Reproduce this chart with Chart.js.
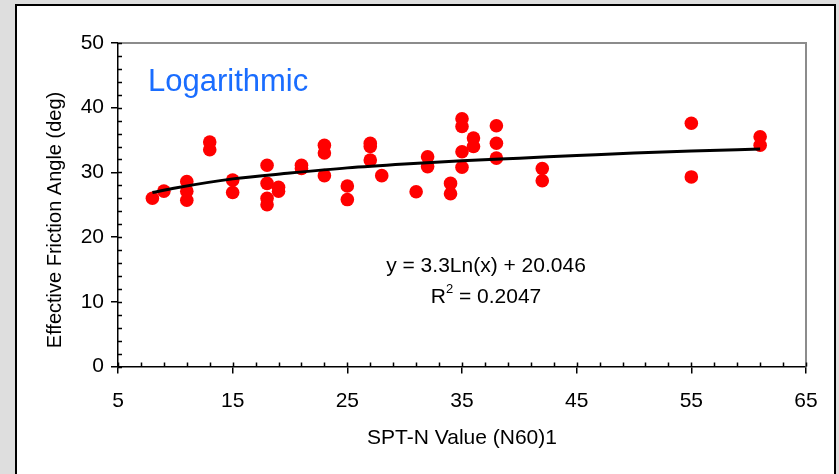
<!DOCTYPE html>
<html>
<head>
<meta charset="utf-8">
<script src="https://cdn.jsdelivr.net/npm/chart.js@4"></script>
<style>
  html, body { margin: 0; padding: 0; background: #dedede; }
  #wrap { position: relative; width: 839px; height: 474px; }
  canvas { display: block; }
</style>
</head>
<body>
<div id="wrap"><canvas id="c" width="839" height="474"></canvas></div>
<script>
// ---- data ----
const sptN = [8, 9, 11, 11, 11, 13, 13, 15, 15, 18, 18, 18, 18, 19, 19, 21, 21, 23, 23, 23, 25, 25,
              27, 27, 27, 28, 31, 32, 32, 34, 34, 35, 35, 35, 35, 36, 36, 38, 38, 38, 42, 42, 55, 55, 61, 61];
const frictionAngle = [26.0, 27.1, 28.6, 27.1, 25.7, 34.7, 33.5, 28.8, 26.9, 31.1, 28.3, 26.0, 25.0, 27.7, 27.1, 31.1, 30.6, 34.2, 33.0, 29.5, 27.9, 25.8,
              34.5, 34.0, 31.9, 29.5, 27.0, 32.4, 30.9, 28.3, 26.7, 38.3, 37.1, 33.2, 30.8, 35.3, 34.0, 37.2, 34.5, 32.2, 30.6, 28.7, 37.6, 29.3, 35.5, 34.2];
// trendline as drawn in the reference (y = 3.3Ln(x) + 20.046)
const trendX = [8, 10, 15, 20, 25, 30, 35, 40, 45, 50, 55, 61];
const trendY = [26.9, 27.6, 29.0, 29.9, 30.7, 31.3, 31.8, 32.2, 32.6, 33.0, 33.3, 33.6];
const xTicks = [5, 15, 25, 35, 45, 55, 65];
const yTicks = [0, 10, 20, 30, 40, 50];
const titleText = "Logarithmic";
const eqText = "y = 3.3Ln(x) + 20.046";
const r2Value = "0.2047";
const xTitle = "SPT-N Value (N60)1";
const yTitle = "Effective Friction Angle (deg)";

const FONT = "'Liberation Sans', Arial, sans-serif";

const panelPlugin = {
  id: 'panel',
  beforeDraw(chart) {
    const ctx = chart.ctx;
    ctx.save();
    ctx.fillStyle = '#dedede';
    ctx.fillRect(0, 0, chart.width, chart.height);
    ctx.fillStyle = '#ffffff';
    ctx.fillRect(16, 5, 819, 480);
    ctx.strokeStyle = '#000000';
    ctx.lineWidth = 2;
    ctx.strokeRect(16, 5, 819, 480);
    ctx.restore();
  },
  beforeDatasetsDraw(chart) {
    const {ctx, chartArea: a} = chart;
    ctx.save();
    ctx.strokeStyle = '#8c8c8c';
    ctx.lineWidth = 2;
    ctx.beginPath();
    ctx.moveTo(a.left, a.top);
    ctx.lineTo(a.right, a.top);
    ctx.lineTo(a.right, a.bottom);
    ctx.stroke();
    ctx.restore();
  },
  afterDraw(chart) {
    const {ctx, chartArea: a, scales} = chart;
    const xs = scales.x, ys = scales.y;
    ctx.save();
    ctx.strokeStyle = '#000';
    ctx.lineWidth = 1.5;
    ctx.beginPath();
    for (let v = xs.min; v <= xs.max + 1e-9; v += 2) {
      const px = Math.round(xs.getPixelForValue(v)) + 0.5;
      ctx.moveTo(px, a.bottom);
      ctx.lineTo(px, a.bottom - 4);
    }
    for (const v of xTicks) {
      const px = Math.round(xs.getPixelForValue(v)) + 0.5;
      ctx.moveTo(px, a.bottom);
      ctx.lineTo(px, a.bottom - 4);
    }
    for (let v = ys.min; v <= ys.max + 1e-9; v += 2) {
      const py = Math.round(ys.getPixelForValue(v)) + 0.5;
      ctx.moveTo(a.left, py);
      ctx.lineTo(a.left + 4, py);
    }
    ctx.stroke();
    ctx.restore();

    ctx.save();
    // y-axis title
    ctx.fillStyle = '#000';
    ctx.font = '20px ' + FONT;
    ctx.textAlign = 'center';
    ctx.textBaseline = 'middle';
    ctx.translate(55, 220);
    ctx.rotate(-Math.PI / 2);
    ctx.fillText(yTitle, 0, 0);
    ctx.restore();

    // annotations
    ctx.save();
    ctx.fillStyle = '#1a6dff';
    ctx.font = '31px ' + FONT;
    ctx.textBaseline = 'alphabetic';
    ctx.textAlign = 'left';
    ctx.fillText(titleText, 148, 91);

    ctx.fillStyle = '#000';
    ctx.font = '21px ' + FONT;
    ctx.textAlign = 'center';
    ctx.textBaseline = 'middle';
    const cx = 486;
    ctx.fillText(eqText, cx, 266);
    const part1 = 'R', part3 = ' = ' + r2Value;
    ctx.font = '21px ' + FONT;
    const w1 = ctx.measureText(part1).width;
    const w3 = ctx.measureText(part3).width;
    ctx.font = '13px ' + FONT;
    const w2 = ctx.measureText('2').width;
    const total = w1 + w2 + w3;
    let x0 = cx - total / 2;
    ctx.textAlign = 'left';
    ctx.font = '21px ' + FONT;
    ctx.fillText(part1, x0, 297);
    ctx.font = '13px ' + FONT;
    ctx.fillText('2', x0 + w1, 289);
    ctx.font = '21px ' + FONT;
    ctx.fillText(part3, x0 + w1 + w2, 297);
    ctx.restore();
  }
};

new Chart(document.getElementById('c'), {
  type: 'scatter',
  data: {
    datasets: [
      {
        label: 'Trend',
        type: 'line',
        data: trendX.map((x, i) => ({x, y: trendY[i]})),
        borderColor: '#000',
        borderWidth: 3,
        pointRadius: 0,
        cubicInterpolationMode: 'monotone',
        fill: false,
        order: 0
      },
      {
        label: 'Data',
        data: sptN.map((x, i) => ({x, y: frictionAngle[i]})),
        backgroundColor: '#ff0000',
        borderWidth: 0,
        pointRadius: 6.8,
        pointHoverRadius: 6.8,
        order: 1
      }
    ]
  },
  options: {
    responsive: false,
    animation: false,
    events: [],
    layout: { padding: { left: 0, top: 43, right: 33, bottom: 0 } },
    plugins: { legend: { display: false }, tooltip: { enabled: false } },
    scales: {
      x: {
        type: 'linear',
        min: 5, max: 65,
        afterBuildTicks(s) { s.ticks = xTicks.map(v => ({value: v})); },
        afterFit(s) { s.height = 107.5; },
        grid: { drawOnChartArea: false, drawTicks: true, tickLength: 7, color: '#000', lineWidth: 1.5 },
        border: { display: true, color: '#000', width: 1.5 },
        ticks: { color: '#000', font: { family: FONT, size: 21 }, padding: 15, maxRotation: 0 },
        title: { display: true, text: xTitle, color: '#000', font: { family: FONT, size: 21 }, padding: { top: 0, bottom: 23 } }
      },
      y: {
        type: 'linear',
        min: 0, max: 50,
        afterBuildTicks(s) { s.ticks = yTicks.map(v => ({value: v})); },
        afterFit(s) { s.width = 118; },
        grid: { drawOnChartArea: false, drawTicks: true, tickLength: 7, color: '#000', lineWidth: 1.5 },
        border: { display: true, color: '#000', width: 1.5 },
        ticks: { color: '#000', font: { family: FONT, size: 21 }, padding: 7 },
        title: { display: false }
      }
    }
  },
  plugins: [panelPlugin]
});
</script>
</body>
</html>
